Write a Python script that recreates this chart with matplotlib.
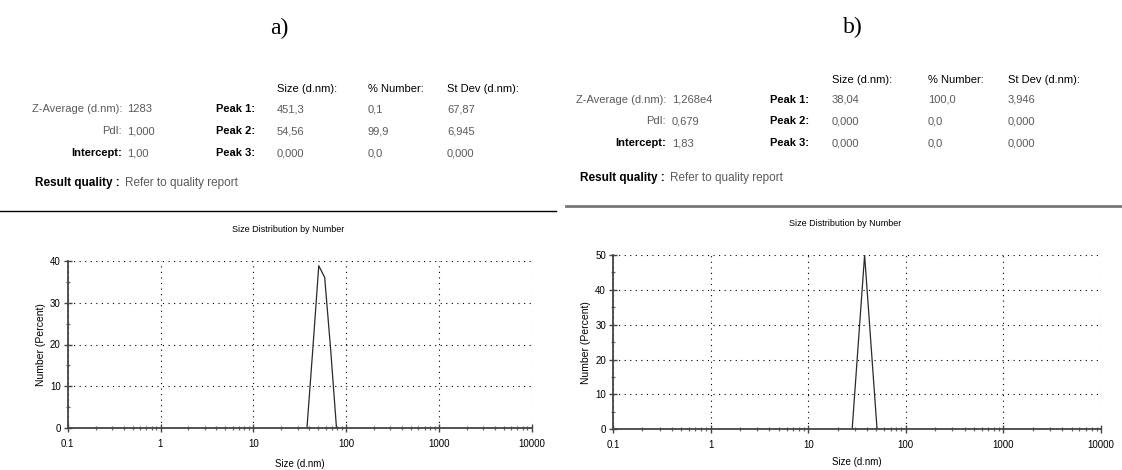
"""
Two DLS reports (size distribution by number), panels a) and b).
"""

import matplotlib
matplotlib.use("Agg")
import matplotlib.pyplot as plt
from matplotlib.lines import Line2D
from matplotlib.ticker import FixedLocator, FixedFormatter, LogLocator, NullFormatter

W, H = 1122, 470

# panel a) report values
a_zavg, a_pdi, a_intercept = "1283", "1,000", "1,00"
a_peak_size = ["451,3", "54,56", "0,000"]
a_peak_number = ["0,1", "99,9", "0,0"]
a_peak_stdev = ["67,87", "6,945", "0,000"]
a_sizes = [37.84, 43.82, 50.75, 58.77, 68.06, 78.82]
a_number = [0.0, 19.0, 38.8, 36.0, 19.0, 0.0]

# panel b) report values
b_zavg, b_pdi, b_intercept = "1,268e4", "0,679", "1,83"
b_peak_size = ["38,04", "0,000", "0,000"]
b_peak_number = ["100,0", "0,0", "0,0"]
b_peak_stdev = ["3,946", "0,000", "0,000"]
b_sizes = [28.21, 32.67, 37.84, 43.82, 50.75]
b_number = [0.0, 25.0, 50.0, 25.0, 0.0]

x_ticks = [0.1, 1, 10, 100, 1000, 10000]
x_labels = ["0.1", "1", "10", "100", "1000", "10000"]

FONT = "Liberation Sans"
GRAY = "#5a5a5a"


def px(x, y):
    return x / W, 1 - y / H


def txt(fig, x, y, s, ha="left", color="black", weight="normal", size=8, family=FONT):
    fx, fy = px(x, y)
    fig.text(fx, fy, s, ha=ha, va="center", color=color, fontweight=weight,
             fontsize=size, family=family)


def report(fig, lay, zavg, pdi, intercept, sizes, numbers, stdevs):
    txt(fig, lay["title_x"], lay["title_y"], lay["letter"], ha="center", size=17,
        family="Liberation Serif")
    hy, rows = lay["header_y"], lay["rows"]
    c1, c2, c3 = lay["cols"]
    txt(fig, c1, hy, "Size (d.nm):")
    txt(fig, c2, hy, "% Number:")
    txt(fig, c3, hy, "St Dev (d.nm):")
    lx, vx, px_ = lay["label_x"], lay["value_x"], lay["peak_x"]
    txt(fig, lx, rows[0], "Z-Average (d.nm):", ha="right", color=GRAY)
    txt(fig, vx, rows[0], zavg, color=GRAY)
    txt(fig, lx, rows[1], "PdI:", ha="right", color=GRAY)
    txt(fig, vx, rows[1], pdi, color=GRAY)
    txt(fig, lx, rows[2], "Intercept:", ha="right", weight="bold")
    txt(fig, vx, rows[2], intercept, color=GRAY)
    for i in range(3):
        txt(fig, px_, rows[i], f"Peak {i + 1}:", ha="right", weight="bold")
        txt(fig, c1, rows[i], sizes[i], color=GRAY)
        txt(fig, c2, rows[i], numbers[i], color=GRAY)
        txt(fig, c3, rows[i], stdevs[i], color=GRAY)
    txt(fig, lay["rq_x"], lay["rq_y"], "Result quality :", weight="bold", size=8.5)
    txt(fig, lay["rq_x"] + 90, lay["rq_y"], "Refer to quality report", color=GRAY, size=8.5)
    x0, x1 = lay["line_x"]
    fy = 1 - lay["line_y"] / H
    fig.add_artist(Line2D([x0 / W, x1 / W], [fy, fy], color=lay["line_c"],
                          lw=lay["line_w"]))
    txt(fig, lay["chart_title_x"], lay["chart_title_y"], "Size Distribution by Number",
        ha="center", size=6.5)


def dist_axes(fig, rect, sizes, number, ymax, xlabel_pad):
    ax = fig.add_axes(rect)
    ax.plot(sizes, number, color="#2a2a2a", lw=0.9)
    ax.set_xscale("log")
    ax.set_xlim(0.1, 10000)
    ax.set_ylim(0, ymax)
    ax.xaxis.set_major_locator(FixedLocator(x_ticks))
    ax.xaxis.set_major_formatter(FixedFormatter(x_labels))
    ax.xaxis.set_minor_locator(LogLocator(base=10, subs=range(2, 10)))
    ax.xaxis.set_minor_formatter(NullFormatter())
    ax.set_yticks(range(0, ymax + 1, 10))
    ax.set_yticks(range(5, ymax, 10), minor=True)
    ax.grid(True, which="major", color="black", linestyle=(0, (1, 4)), lw=0.8)
    for side in ("top", "right"):
        ax.spines[side].set_visible(False)
    for side in ("left", "bottom"):
        ax.spines[side].set_color("#444444")
        ax.spines[side].set_linewidth(1.3)
    ax.tick_params(which="major", direction="inout", length=6, width=1,
                   color="#444444", labelsize=7)
    ax.tick_params(axis="y", which="major", pad=2)
    ax.tick_params(axis="x", which="major", pad=5)
    ax.tick_params(which="minor", direction="inout", length=3, width=0.9,
                   color="#666666")
    for lab in ax.get_xticklabels() + ax.get_yticklabels():
        lab.set_family(FONT)
    ax.set_xlabel("Size (d.nm)", fontsize=7, family=FONT, labelpad=xlabel_pad)
    ax.set_ylabel("Number (Percent)", fontsize=7.5, family=FONT, labelpad=3)
    return ax


def main() -> None:
    fig = plt.figure(figsize=(W / 100, H / 100), dpi=100)

    lay_a = dict(letter="a)", title_x=279, title_y=28, header_y=89,
                 rows=[109, 131, 153], cols=[277, 368, 447],
                 label_x=122, value_x=127, peak_x=255, rq_x=35, rq_y=183,
                 line_x=(0, 556), line_y=211, line_c="black", line_w=1.0,
                 chart_title_x=288, chart_title_y=230)
    lay_b = dict(letter="b)", title_x=853, title_y=27, header_y=80,
                 rows=[100, 121, 143], cols=[832, 928, 1008],
                 label_x=666, value_x=672, peak_x=809, rq_x=580, rq_y=178,
                 line_x=(566, 1122), line_y=206, line_c="#777777", line_w=2.0,
                 chart_title_x=845, chart_title_y=224)

    report(fig, lay_a, a_zavg, a_pdi, a_intercept, a_peak_size, a_peak_number, a_peak_stdev)
    report(fig, lay_b, b_zavg, b_pdi, b_intercept, b_peak_size, b_peak_number, b_peak_stdev)

    dist_axes(fig, [67.7 / W, 1 - 428.3 / H, 464 / W, 167.6 / H], a_sizes, a_number, 40, 7)
    dist_axes(fig, [613 / W, 1 - 429.3 / H, 488 / W, 174.3 / H], b_sizes, b_number, 50, 5)

    fig.savefig("out.png", dpi=100)
    plt.close(fig)


if __name__ == "__main__":
    main()
